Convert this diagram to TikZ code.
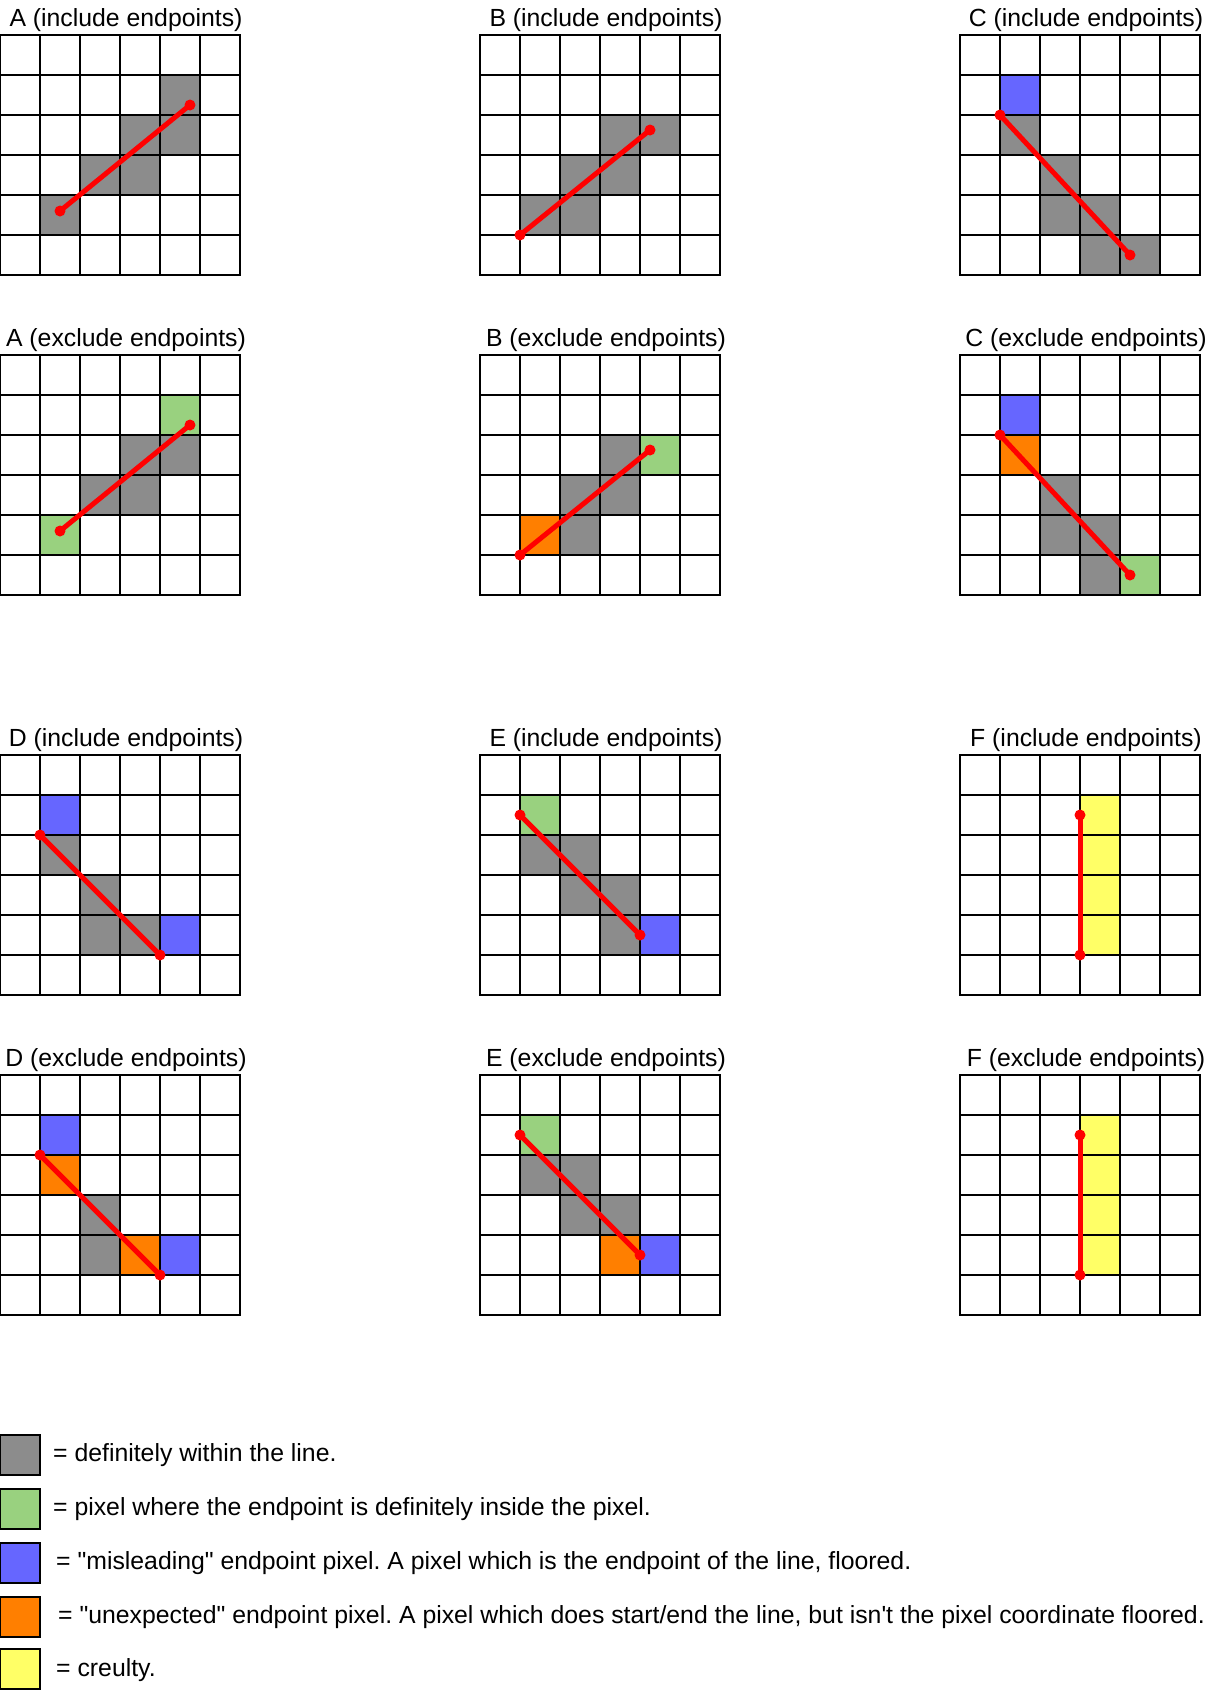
\documentclass[tikz,border=0pt]{standalone}
\usepackage{fontspec}
\newfontfamily\lsans{Liberation Sans}
\frenchspacing
\definecolor{cgray}{HTML}{8C8C8C}
\definecolor{cgreen}{RGB}{153,209,127}
\definecolor{cblue}{HTML}{6666FF}
\definecolor{corange}{HTML}{FF7F00}
\definecolor{cyellow}{HTML}{FFFF66}
\tikzset{
  gridline/.style={line width=1.3pt, black, line cap=rect},
  redline/.style={line width=5pt, red},
  paneltitle/.style={font=\lsans\fontsize{24.8}{28}\selectfont, anchor=base, inner sep=0pt},
  legtext/.style={font=\lsans\fontsize{24.8}{28}\selectfont\frenchspacing, anchor=base west, inner sep=0pt},
  legsq/.style={draw=black, line width=1.3pt, minimum size=40pt, inner sep=0pt},
}
\newcommand\cellat[3]{\fill[#1] ({#2*40},{#3*40}) rectangle ++(40,40);}
\newcommand\gridlines{\foreach \i in {0,...,6}{\draw[gridline] (\i*40,0) -- (\i*40,240); \draw[gridline] (0,\i*40) -- (240,\i*40);}}
\newcommand\segment[5]{%
  \coordinate (#1s) at ({#2*40},{#3*40});
  \coordinate (#1e) at ({#4*40},{#5*40});
  \draw[redline] (#1s) -- (#1e);
  \fill[red] (#1s) circle (5.5pt) (#1e) circle (5.5pt);
}
\begin{document}
\begin{tikzpicture}[x=1pt,y=-1pt]
\useasboundingbox (0,0) rectangle (1230,1690);

% ---------- A include
\begin{scope}[shift={(0,35)}]
  \node[paneltitle] (tA1) at (126,-9) {A (include endpoints)};
  \cellat{cgray}{4}{1}\cellat{cgray}{3}{2}\cellat{cgray}{4}{2}
  \cellat{cgray}{2}{3}\cellat{cgray}{3}{3}\cellat{cgray}{1}{4}
  \gridlines
  \segment{A1}{1.5}{4.4}{4.75}{1.75}
\end{scope}
% ---------- A exclude
\begin{scope}[shift={(0,355)}]
  \node[paneltitle] (tA2) at (126,-9) {A (exclude endpoints)};
  \cellat{cgreen}{4}{1}\cellat{cgray}{3}{2}\cellat{cgray}{4}{2}
  \cellat{cgray}{2}{3}\cellat{cgray}{3}{3}\cellat{cgreen}{1}{4}
  \gridlines
  \segment{A2}{1.5}{4.4}{4.75}{1.75}
\end{scope}
% ---------- B include
\begin{scope}[shift={(480,35)}]
  \node[paneltitle] (tB1) at (126,-9) {B (include endpoints)};
  \cellat{cgray}{3}{2}\cellat{cgray}{4}{2}\cellat{cgray}{2}{3}
  \cellat{cgray}{3}{3}\cellat{cgray}{1}{4}\cellat{cgray}{2}{4}
  \gridlines
  \segment{B1}{1}{5}{4.25}{2.375}
\end{scope}
% ---------- B exclude
\begin{scope}[shift={(480,355)}]
  \node[paneltitle] (tB2) at (126,-9) {B (exclude endpoints)};
  \cellat{cgray}{3}{2}\cellat{cgreen}{4}{2}\cellat{cgray}{2}{3}
  \cellat{cgray}{3}{3}\cellat{corange}{1}{4}\cellat{cgray}{2}{4}
  \gridlines
  \segment{B2}{1}{5}{4.25}{2.375}
\end{scope}
% ---------- C include
\begin{scope}[shift={(960,35)}]
  \node[paneltitle] (tC1) at (126,-9) {C (include endpoints)};
  \cellat{cblue}{1}{1}\cellat{cgray}{1}{2}\cellat{cgray}{2}{3}
  \cellat{cgray}{2}{4}\cellat{cgray}{3}{4}\cellat{cgray}{3}{5}\cellat{cgray}{4}{5}
  \gridlines
  \segment{C1}{1}{2}{4.25}{5.5}
\end{scope}
% ---------- C exclude
\begin{scope}[shift={(960,355)}]
  \node[paneltitle] (tC2) at (126,-9) {C (exclude endpoints)};
  \cellat{cblue}{1}{1}\cellat{corange}{1}{2}\cellat{cgray}{2}{3}
  \cellat{cgray}{2}{4}\cellat{cgray}{3}{4}\cellat{cgray}{3}{5}\cellat{cgreen}{4}{5}
  \gridlines
  \segment{C2}{1}{2}{4.25}{5.5}
\end{scope}
% ---------- D include
\begin{scope}[shift={(0,755)}]
  \node[paneltitle] (tD1) at (126,-9) {D (include endpoints)};
  \cellat{cblue}{1}{1}\cellat{cgray}{1}{2}\cellat{cgray}{2}{3}
  \cellat{cgray}{2}{4}\cellat{cgray}{3}{4}\cellat{cblue}{4}{4}
  \gridlines
  \segment{D1}{1}{2}{4}{5}
\end{scope}
% ---------- D exclude
\begin{scope}[shift={(0,1075)}]
  \node[paneltitle] (tD2) at (126,-9) {D (exclude endpoints)};
  \cellat{cblue}{1}{1}\cellat{corange}{1}{2}\cellat{cgray}{2}{3}
  \cellat{cgray}{2}{4}\cellat{corange}{3}{4}\cellat{cblue}{4}{4}
  \gridlines
  \segment{D2}{1}{2}{4}{5}
\end{scope}
% ---------- E include
\begin{scope}[shift={(480,755)}]
  \node[paneltitle] (tE1) at (126,-9) {E (include endpoints)};
  \cellat{cgreen}{1}{1}\cellat{cgray}{1}{2}\cellat{cgray}{2}{2}
  \cellat{cgray}{2}{3}\cellat{cgray}{3}{3}\cellat{cgray}{3}{4}\cellat{cblue}{4}{4}
  \gridlines
  \segment{E1}{1}{1.5}{4}{4.5}
\end{scope}
% ---------- E exclude
\begin{scope}[shift={(480,1075)}]
  \node[paneltitle] (tE2) at (126,-9) {E (exclude endpoints)};
  \cellat{cgreen}{1}{1}\cellat{cgray}{1}{2}\cellat{cgray}{2}{2}
  \cellat{cgray}{2}{3}\cellat{cgray}{3}{3}\cellat{corange}{3}{4}\cellat{cblue}{4}{4}
  \gridlines
  \segment{E2}{1}{1.5}{4}{4.5}
\end{scope}
% ---------- F include
\begin{scope}[shift={(960,755)}]
  \node[paneltitle] (tF1) at (126,-9) {F (include endpoints)};
  \cellat{cyellow}{3}{1}\cellat{cyellow}{3}{2}\cellat{cyellow}{3}{3}\cellat{cyellow}{3}{4}
  \gridlines
  \segment{F1}{3}{1.5}{3}{5}
\end{scope}
% ---------- F exclude
\begin{scope}[shift={(960,1075)}]
  \node[paneltitle] (tF2) at (126,-9) {F (exclude endpoints)};
  \cellat{cyellow}{3}{1}\cellat{cyellow}{3}{2}\cellat{cyellow}{3}{3}\cellat{cyellow}{3}{4}
  \gridlines
  \segment{F2}{3}{1.5}{3}{5}
\end{scope}

% ---------- legend
\node[legsq, fill=cgray]   (S1) at (20,1455) {};
\node[legsq, fill=cgreen]  (S2) at (20,1509) {};
\node[legsq, fill=cblue]   (S3) at (20,1563) {};
\node[legsq, fill=corange] (S4) at (20,1617) {};
\node[legsq, fill=cyellow] (S5) at (20,1669) {};
\node[legtext] (L1) at (53,1461) {= definitely within the line.};
\node[legtext] (L2) at (53,1515) {= pixel where the endpoint is definitely inside the pixel.};
\node[legtext] (L3) at (56,1569) {= "misleading" endpoint pixel. A pixel which is the endpoint of the line, floored.};
\node[legtext] (L4) at (58,1623) {= "unexpected" endpoint pixel. A pixel which does start/end the line, but isn't the pixel coordinate floored.};
\node[legtext] (L5) at (56,1676) {= creulty.};
\end{tikzpicture}
\end{document}
